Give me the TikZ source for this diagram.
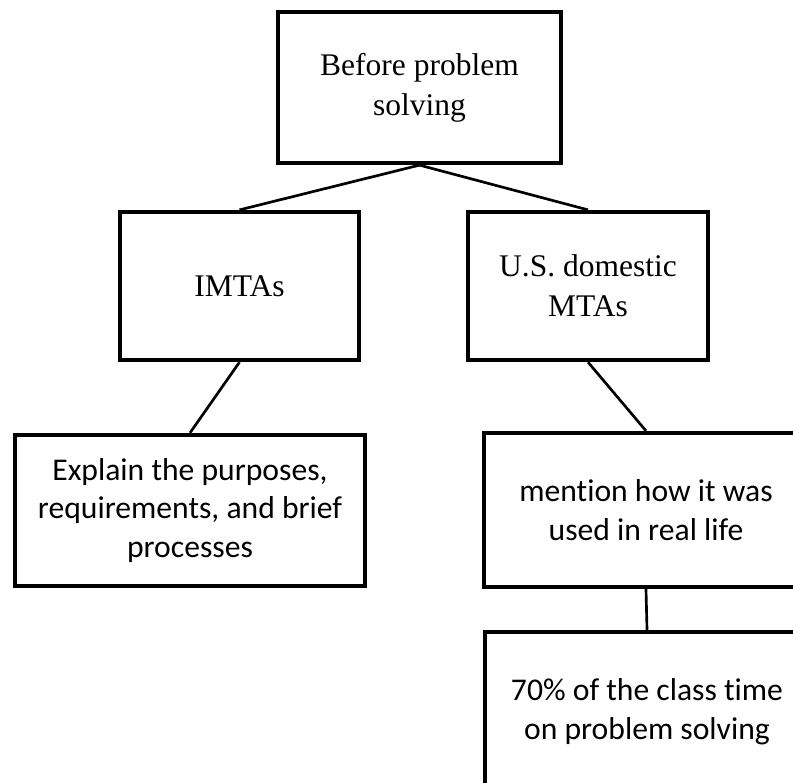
\documentclass[tikz,border=0pt]{standalone}
\usepackage{fontspec}
\newfontfamily\boxserif{Liberation Serif}
\newfontfamily\boxsans[Ligatures=NoCommon]{Carlito}
\usetikzlibrary{positioning}

\begin{document}
\begin{tikzpicture}[
  x=0.025cm, y=-0.025cm,
  topbox/.style={draw=black, line width=3pt, align=center, inner sep=0pt, font=\boxserif\fontsize{22.4}{28.5}\selectfont},
  subbox/.style={draw=black, line width=3pt, align=center, inner sep=0pt, font=\boxsans\fontsize{22.5}{27.5}\selectfont},
  link/.style={line width=1.9pt, draw=black}
]
\clip (0,0) rectangle (793,782);
\fill[white] (0,0) rectangle (793,782);
\node[topbox, minimum width=7.075cm, minimum height=3.775cm] (top) at (419.5,87.5) {Before problem\\solving};
\node[topbox, minimum width=5.975cm, minimum height=3.7cm] (imtas) at (239.5,286) {IMTAs};
\node[topbox, minimum width=6cm, minimum height=3.7cm] (usmta) at (588,286) {U.S. domestic\\MTAs};
\node[subbox, minimum width=8.75cm, minimum height=3.775cm] (explain) at (190,510.5) {Explain the purposes,\\requirements, and brief\\processes};
\node[subbox, minimum width=8.1cm, minimum height=3.85cm] (mention) at (646,510) {mention how it was\\used in real life};
\node[subbox, minimum width=8.1cm, minimum height=4cm] (share) at (647,712) {70\% of the class time\\on problem solving};
\draw[link] (top.south) -- (imtas.north);
\draw[link] (top.south) -- (usmta.north);
\draw[link] (imtas.south) -- (explain.north);
\draw[link] (usmta.south) -- (mention.north);
\draw[link] (mention.south) -- (share.north);
\end{tikzpicture}
\end{document}
